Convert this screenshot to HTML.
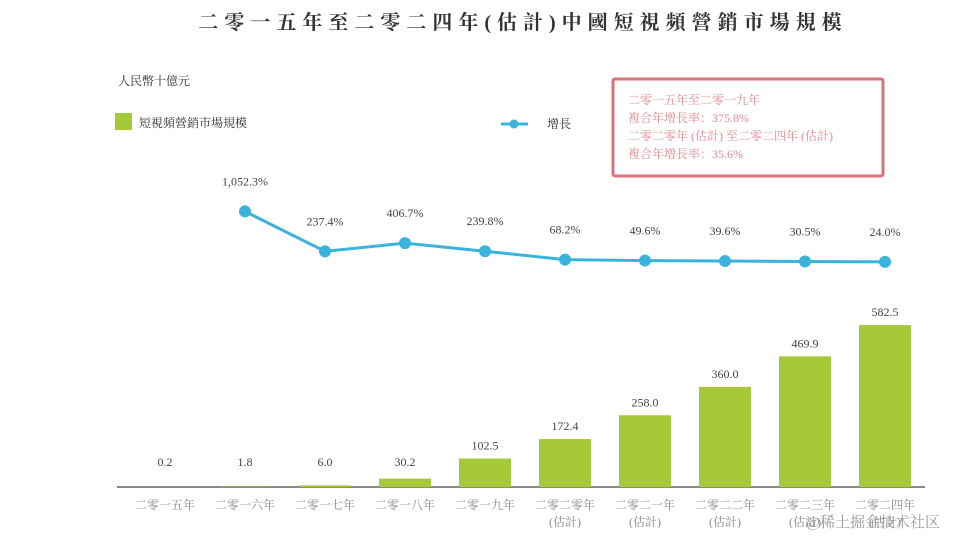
<!DOCTYPE html>
<html><head><meta charset="utf-8"><style>
body{margin:0;width:956px;height:549px;background:#fff;overflow:hidden;font-family:"Liberation Serif","Noto Serif CJK SC","Noto Sans CJK TC",serif;}
svg text{font-family:"Liberation Serif","Noto Serif CJK SC","Noto Sans CJK TC",serif;}
</style></head><body>
<svg id="c" width="956" height="549">
<text x="523" y="29" text-anchor="middle" font-size="20" font-weight="bold" letter-spacing="6" fill="#333">二零一五年至二零二四年(估計)中國短視頻營銷市場規模</text>
<text x="118" y="85" font-size="12" fill="#333">人民幣十億元</text>
<rect x="115" y="113" width="17" height="17" fill="#a6c93a"/>
<text x="139" y="127" font-size="12" fill="#333">短視頻營銷市場規模</text>
<line x1="501" y1="124" x2="528" y2="124" stroke="#3ab4dc" stroke-width="3"/>
<circle cx="514" cy="124" r="4.5" fill="#3ab4dc"/>
<text x="547" y="128" font-size="12" fill="#333">增長</text>
<g>
<rect x="613" y="79" width="270" height="97" fill="#fff" stroke="#d9737b" stroke-width="3" rx="2"/>
<text x="628" y="104" font-size="12" fill="#e08a90">二零一五年至二零一九年</text>
<text x="628" y="122" font-size="12" fill="#e08a90">複合年增長率：375.8%</text>
<text x="628" y="140" font-size="12" fill="#e08a90">二零二零年 (估計) 至二零二四年 (估計)</text>
<text x="628" y="158" font-size="12" fill="#e08a90">複合年增長率：35.6%</text>
</g>
<line x1="117" y1="487" x2="925" y2="487" stroke="#888" stroke-width="2"/>
<g id="bars"></g><g id="line"></g><g id="xl"></g>
<text x="940" y="527" text-anchor="end" font-size="15" fill="#999" font-family="Liberation Sans,Noto Sans CJK SC,sans-serif">@稀土掘金技术社区</text>
</svg>
<script>
const categories=["二零一五年","二零一六年","二零一七年","二零一八年","二零一九年","二零二零年","二零二一年","二零二二年","二零二三年","二零二四年"];
const estimated=[false,false,false,false,false,true,true,true,true,true];
const marketSize=[0.2,1.8,6.0,30.2,102.5,172.4,258.0,360.0,469.9,582.5];
const growth=[null,1052.3,237.4,406.7,239.8,68.2,49.6,39.6,30.5,24.0];
const NS="http://www.w3.org/2000/svg";
const xC=i=>165+i*80;
const yB=v=>487-v*0.278;
const yL=v=>263-v*0.049;
function mk(t,a,p,txt){const e=document.createElementNS(NS,t);for(const k in a)e.setAttribute(k,a[k]);if(txt!=null)e.textContent=txt;p.appendChild(e);return e;}
const bars=document.getElementById('bars'),line=document.getElementById('line'),xl=document.getElementById('xl');
marketSize.forEach((v,i)=>{
 const y=yB(v);
 const r=mk('rect',{x:xC(i)-26,y:y,width:52,height:487-y,fill:'#a6c93a'},bars);
 
 
 const t=mk('text',{x:xC(i),y:Math.min(y,475)-9,'text-anchor':'middle','font-size':12,fill:'#444'},bars,v.toFixed(1));
 
 
 const l=mk('text',{x:xC(i),y:509,'text-anchor':'middle','font-size':12,fill:'#888'},xl,categories[i]);
 
 
 if(estimated[i]){const e=mk('text',{x:xC(i),y:526,'text-anchor':'middle','font-size':12,fill:'#888'},xl,'(估計)');
 
 }
});
let pts=[];growth.forEach((v,i)=>{if(v!=null)pts.push([xC(i),yL(v)]);});
const pl=mk('polyline',{points:pts.map(p=>p.join(',')).join(' '),fill:'none',stroke:'#3ab4dc','stroke-width':3},line);


growth.forEach((v,i)=>{if(v==null)return;
 const c=mk('circle',{cx:xC(i),cy:yL(v),r:6,fill:'#3ab4dc'},line);
 
 
 const t=mk('text',{x:xC(i),y:yL(v)-26,'text-anchor':'middle','font-size':12,fill:'#444'},line,v.toLocaleString('en-US',{minimumFractionDigits:1,maximumFractionDigits:1})+'%');
 
 
});
</script>
</body></html>
